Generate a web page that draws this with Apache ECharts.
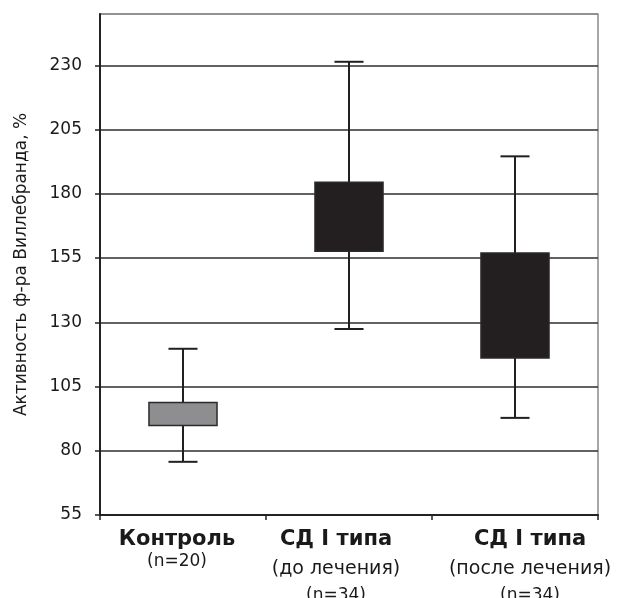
<!DOCTYPE html>
<html>
<head>
<meta charset="utf-8">
<script src="https://cdn.jsdelivr.net/npm/echarts@6/dist/echarts.min.js"></script>
<style>html,body{margin:0;padding:0;background:#fff}#c{width:630px;height:598px}</style>
</head>
<body>
<div id="c"></div>
<script>
// ---- data ----
var categories = ['Контроль', 'СД I типа', 'СД I типа'];
var subLabels = ['', '(до лечения)', '(после лечения)'];
var countLabels = ['(n=20)', '(n=34)', '(n=34)'];
var whiskerLow = [75.7, 127.4, 92.8];
var boxLow = [89.8, 157.7, 116.1];
var boxHigh = [98.8, 184.5, 157.0];
var whiskerHigh = [119.7, 231.4, 194.6];
var yTicks = [55, 80, 105, 130, 155, 180, 205, 230];
var yName = 'Активность ф-ра Виллебранда, %';

// ---- chart ----
var FONT = 'DejaVu Sans';
var TXT = '#1a1a1a';
var boxFill = ['#8e8e90', '#231f20', '#231f20'];
var lineCol = '#231f20';
var labelPads = [[0, 12, 0, 0], [0, 26, 0, 0], [0, 0, 0, 30]];

var rich = {};
categories.forEach(function (c, i) {
  var p = labelPads[i];
  rich['b' + i] = {fontFamily: FONT, fontWeight: 'bold', fontSize: 21, lineHeight: 28, color: TXT, padding: p};
  rich['d' + i] = {fontFamily: FONT, fontSize: 19, lineHeight: 30, color: TXT, padding: p};
  rich['n' + i] = {fontFamily: FONT, fontSize: 17, lineHeight: subLabels[i] ? 24 : 16, color: TXT, padding: p};
});

var seriesData = categories.map(function (c, i) {
  return [i, whiskerLow[i], boxLow[i], boxHigh[i], whiskerHigh[i]];
});

var chart = echarts.init(document.getElementById('c'), null, {renderer: 'canvas'});
chart.setOption({
  animation: false,
  backgroundColor: '#fff',
  grid: {left: 100, right: 32, top: 14, bottom: 83, show: true, borderColor: '#8a8a8a', borderWidth: 1.5, backgroundColor: 'transparent', outerBoundsMode: 'none', containLabel: false},
  xAxis: {
    type: 'category',
    data: categories,
    boundaryGap: true,
    axisLine: {lineStyle: {color: '#222', width: 2}},
    axisTick: {show: true, length: 5, lineStyle: {color: '#222', width: 1.5}},
    axisLabel: {
      interval: 0,
      margin: 11,
      color: TXT,
      fontFamily: FONT,
      formatter: function (v, i) {
        var s = '{b' + i + '|' + v + '}';
        if (subLabels[i]) s += '\n{d' + i + '|' + subLabels[i] + '}';
        s += '\n{n' + i + '|' + countLabels[i] + '}';
        return s;
      },
      rich: rich
    },
    splitLine: {show: false}
  },
  yAxis: {
    type: 'value',
    min: yTicks[0],
    max: 250,
    interval: 25,
    name: yName,
    nameLocation: 'middle',
    nameGap: 70,
    nameTextStyle: {fontFamily: FONT, fontSize: 17, color: TXT},
    axisLine: {show: true, lineStyle: {color: '#222', width: 2}},
    axisTick: {show: true, length: 5, lineStyle: {color: '#222', width: 1.5}},
    axisLabel: {
      margin: 18, color: TXT, fontFamily: FONT, fontSize: 17,
      showMaxLabel: false,
      formatter: function (v) { return yTicks.indexOf(v) >= 0 ? String(v) : ''; }
    },
    splitLine: {show: true, lineStyle: {color: ['#2e2e2e','#2e2e2e','#2e2e2e','#2e2e2e','#2e2e2e','#2e2e2e','#2e2e2e','#2e2e2e','#8a8a8a'], width: 1.5}}
  },
  series: [{
    type: 'custom',
    data: seriesData,
    encode: {x: 0, y: [1, 2, 3, 4]},
    renderItem: function (params, api) {
      var idx = api.value(0);
      var pLow = api.coord([idx, api.value(1)]);
      var pQ1 = api.coord([idx, api.value(2)]);
      var pQ3 = api.coord([idx, api.value(3)]);
      var pHigh = api.coord([idx, api.value(4)]);
      var band = api.size([1, 0])[0];
      var bw = band * 0.41;
      var cw = band * 0.175;
      var x = pLow[0];
      var ls = {stroke: lineCol, lineWidth: 2};
      return {
        type: 'group',
        children: [
          {type: 'line', shape: {x1: x, y1: pLow[1], x2: x, y2: pHigh[1]}, style: ls},
          {type: 'line', shape: {x1: x - cw / 2, y1: pLow[1], x2: x + cw / 2, y2: pLow[1]}, style: ls},
          {type: 'line', shape: {x1: x - cw / 2, y1: pHigh[1], x2: x + cw / 2, y2: pHigh[1]}, style: ls},
          {type: 'rect', shape: {x: x - bw / 2, y: pQ3[1], width: bw, height: pQ1[1] - pQ3[1]},
           style: {fill: boxFill[params.dataIndex], stroke: '#2a2a2a', lineWidth: 1.5}}
        ]
      };
    }
  }]
});
</script>
</body>
</html>
